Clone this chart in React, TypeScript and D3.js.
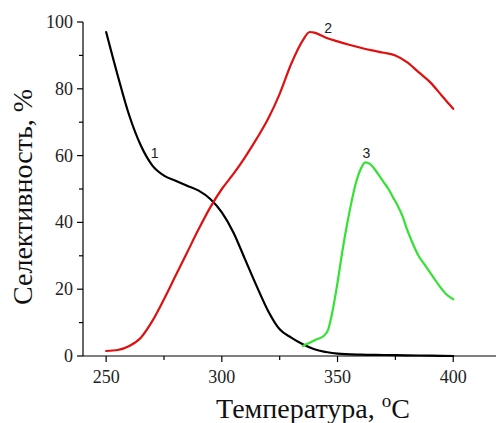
import React from "react";
import * as d3 from "d3";

// Temperature (°C) grid and selectivity (%) for each curve
const tempBlack = [250, 255, 260, 265, 270, 275, 280, 285, 290, 295, 300, 305, 310, 315, 320, 325, 330, 335, 340, 345, 350, 360, 370, 380, 390, 400];
const selBlack = [97, 84, 72, 63, 57, 54, 52.5, 51, 49.5, 47, 43, 37, 29, 21, 13.5, 8, 5.5, 3.5, 2, 1.2, 0.7, 0.4, 0.3, 0.2, 0.1, 0];

const tempRed = [250, 255, 260, 265, 270, 275, 280, 285, 290, 295, 300, 305, 310, 315, 320, 325, 330, 335, 338, 340, 345, 350, 355, 360, 365, 370, 375, 380, 385, 390, 395, 400];
const selRed = [1.5, 1.8, 3, 5.5, 10.5, 17, 24, 31, 38, 44.5, 50, 54.5, 59.5, 65, 71, 78.5, 87.5, 94.5, 97, 96.8, 95.3, 94.2, 93.2, 92.3, 91.5, 90.8, 90, 88, 85, 82, 78, 74];

const tempGreen = [335, 338, 341, 344, 346, 348, 350, 352, 354, 356, 358, 360, 362, 364, 366, 368, 370, 372, 374, 376, 378, 380, 382, 385, 388, 391, 394, 397, 400];
const selGreen = [3, 4, 5, 6, 8, 14, 22, 31, 39, 46, 52, 56, 58, 57.5, 56, 54, 52, 50, 47.5, 45, 42, 38, 34.5, 30, 27, 24, 21, 18.5, 17];

const xMajorTicks = [250, 300, 350, 400];
const xMinorTicks = [275, 325, 375];
const yMajorTicks = [0, 20, 40, 60, 80, 100];
const yMinorTicks = [10, 30, 50, 70, 90];

const curveLabels = [
  { text: "1", t: 271, v: 59.3 },
  { text: "2", t: 346, v: 96.7 },
  { text: "3", t: 362.5, v: 59.3 },
];

const W = 496;
const H = 423;
const serif = "'Liberation Serif', 'Times New Roman', serif";
const sans = "'Liberation Sans', Arial, sans-serif";

export default function App() {
  const x = d3.scaleLinear().domain([240, 420]).range([83, 499.5]);
  const y = d3.scaleLinear().domain([0, 100]).range([356, 22]);

  const line = (ts: number[], vs: number[]) =>
    d3
      .line<number>()
      .x((_, i) => x(ts[i]))
      .y((v) => y(v))
      .curve(d3.curveMonotoneX)(vs) || "";

  const series = [
    { t: tempBlack, v: selBlack, color: "#000000" },
    { t: tempRed, v: selRed, color: "#e01010" },
    { t: tempGreen, v: selGreen, color: "#33e233" },
  ];

  const x0 = x.range()[0];
  const y0 = y(0);

  return (
    <svg width={W} height={H} style={{ position: "absolute", left: 0, top: 0, background: "#fff" }}>
      {/* axes */}
      <line x1={x0} x2={W} y1={y0} y2={y0} stroke="#000" strokeWidth={1.2} />
      <line x1={x0} x2={x0} y1={y(100)} y2={y0} stroke="#000" strokeWidth={1.2} />

      {xMajorTicks.map((t) => (
        <g key={"xm" + t}>
          <line x1={x(t)} x2={x(t)} y1={y0} y2={y0 + 6} stroke="#000" strokeWidth={1.2} />
          <text x={x(t)} y={383} textAnchor="middle" fontFamily={serif} fontSize={18} fill="#222">
            {t}
          </text>
        </g>
      ))}
      {xMinorTicks.map((t) => (
        <line key={"xn" + t} x1={x(t)} x2={x(t)} y1={y0} y2={y0 + 4} stroke="#000" strokeWidth={1.2} />
      ))}
      {yMajorTicks.map((v) => (
        <g key={"ym" + v}>
          <line x1={x0 - 6} x2={x0} y1={y(v)} y2={y(v)} stroke="#000" strokeWidth={1.2} />
          <text x={73} y={y(v) + 6} textAnchor="end" fontFamily={serif} fontSize={18} fill="#222">
            {v}
          </text>
        </g>
      ))}
      {yMinorTicks.map((v) => (
        <line key={"yn" + v} x1={x0 - 4} x2={x0} y1={y(v)} y2={y(v)} stroke="#000" strokeWidth={1.2} />
      ))}

      {/* curves */}
      {series.map((s, i) => (
        <path key={i} d={line(s.t, s.v)} fill="none" stroke={s.color} strokeWidth={2.2} strokeLinejoin="round" strokeLinecap="round" />
      ))}

      {curveLabels.map((l) => (
        <text key={l.text} x={x(l.t)} y={y(l.v)} textAnchor="middle" fontFamily={sans} fontSize={14} fill="#222">
          {l.text}
        </text>
      ))}

      {/* axis titles */}
      <text
        transform={`translate(32, 197) rotate(-90)`}
        textAnchor="middle"
        fontFamily={serif}
        fontSize={28}
        fill="#111"
      >
        Селективность, %
      </text>
      <text x={313} y={418} textAnchor="middle" fontFamily={serif} fontSize={28} fill="#111">
        Температура,{" "}
        <tspan fontSize={19} dy={-11}>
          o
        </tspan>
        <tspan dy={11}>C</tspan>
      </text>
    </svg>
  );
}
